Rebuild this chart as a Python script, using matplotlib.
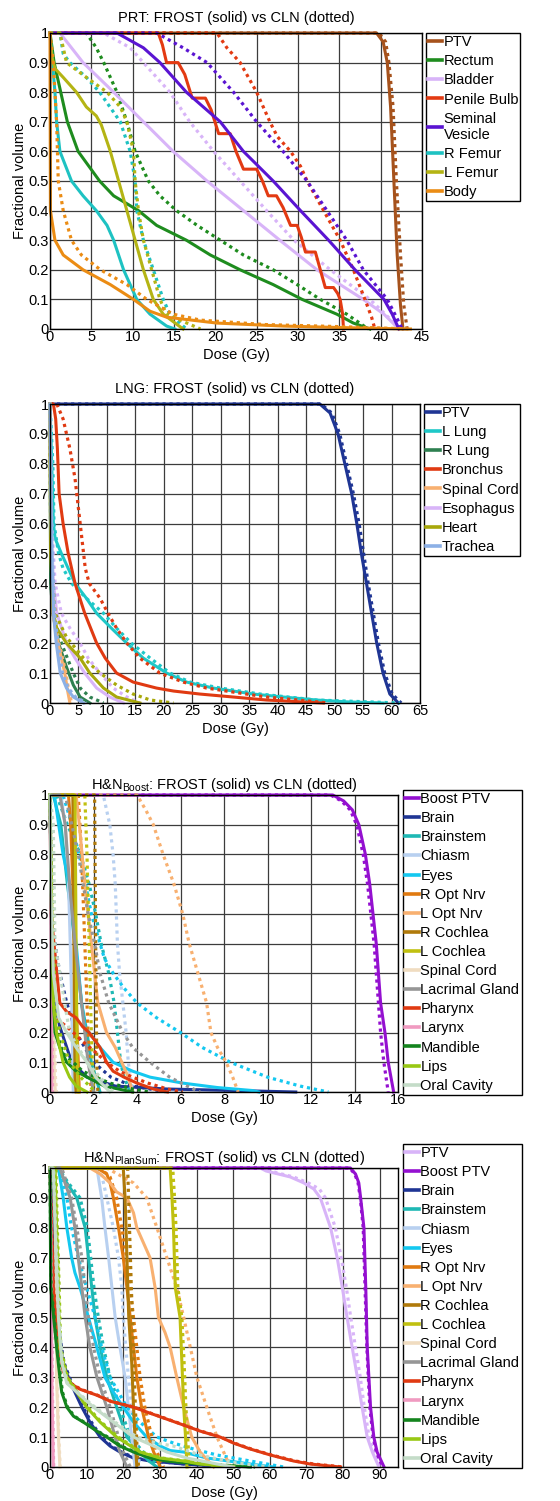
import matplotlib
matplotlib.use('Agg')
import matplotlib.pyplot as plt

plt.rcParams['font.family'] = ['Liberation Sans', 'DejaVu Sans']
plt.rcParams['mathtext.fontset'] = 'custom'
plt.rcParams['mathtext.rm'] = 'Liberation Sans'
plt.rcParams['mathtext.it'] = 'Liberation Sans:italic'
plt.rcParams['mathtext.bf'] = 'Liberation Sans:bold'

# ---------------- PRT (prostate) : (dose Gy, fractional volume) ----------------
prt_ptv_f = [(0,1),(39.5,1),(40.3,0.97),(40.8,0.9),(41.2,0.75),(41.6,0.5),(42.0,0.25),(42.4,0.08),(42.7,0)]
prt_ptv_c = [(0,1),(39.8,1),(40.6,0.97),(41.0,0.9),(41.5,0.75),(41.9,0.5),(42.4,0.25),(42.8,0.08),(43.2,0)]
prt_rectum_f = [(0,1),(0.5,0.9),(1.3,0.8),(2.1,0.7),(3.4,0.6),(6.0,0.5),(7.7,0.45),(10.7,0.4),(12.9,0.35),(16.5,0.3),(19.4,0.25),(23,0.2),(27,0.15),(30.5,0.1),(34.7,0.05),(36.7,0.02),(38.7,0)]
prt_rectum_c = [(0,1),(4.4,1),(5.6,0.95),(6.5,0.9),(8.1,0.8),(9.3,0.7),(10.3,0.6),(11.9,0.5),(13.3,0.45),(15.3,0.4),(17.8,0.35),(20.6,0.3),(23.4,0.25),(27,0.2),(29.9,0.15),(32.7,0.1),(35.9,0.05),(38.5,0)]
prt_bladder_f = [(0,1),(1.2,1),(4,0.9),(7.7,0.8),(11.3,0.7),(14.9,0.6),(19,0.5),(23.4,0.4),(27.8,0.3),(32.3,0.2),(37.9,0.1),(40.4,0.05),(42.2,0)]
prt_bladder_c = [(0,1),(6.5,1),(9.7,0.95),(11.3,0.9),(14.5,0.8),(16.9,0.7),(19.8,0.6),(23,0.5),(26.2,0.4),(29.5,0.3),(33.9,0.2),(38.7,0.1),(42.4,0)]
prt_penile_f = [(0,1),(13.1,1),(13.6,0.96),(14.1,0.9),(15.5,0.9),(16.3,0.86),(17.2,0.78),(18.8,0.78),(19.5,0.74),(20.4,0.66),(21.8,0.66),(22.5,0.6),(23.4,0.54),(25,0.54),(25.7,0.5),(26.4,0.45),(27.4,0.45),(28.2,0.41),(29.1,0.35),(29.9,0.35),(30.4,0.31),(30.9,0.26),(32.1,0.26),(32.7,0.2),(33.3,0.14),(34.3,0.14),(34.8,0.12),(35.1,0.1),(35.4,0.05),(35.5,0)]
prt_penile_c = [(0,1),(20.2,1),(21.4,0.95),(23,0.9),(25,0.8),(26.6,0.7),(27.5,0.65),(29.1,0.6),(30.3,0.55),(31.1,0.5),(33.1,0.4),(35.1,0.3),(36.7,0.2),(38.1,0.1),(38.9,0.04),(39.3,0)]
prt_sv_f = [(0,1),(8.1,1),(11.3,0.95),(13.3,0.9),(16.5,0.8),(20.6,0.7),(23.4,0.6),(27,0.5),(30.3,0.4),(33.7,0.3),(36.9,0.2),(40.4,0.1),(41.4,0.05),(42.2,0)]
prt_sv_c = [(0,1),(12.9,1),(16.1,0.95),(19,0.9),(22.2,0.8),(25,0.7),(28.2,0.6),(31.1,0.5),(33.5,0.4),(35.9,0.3),(37.9,0.2),(40.8,0.1),(41.9,0.04),(42.6,0)]
prt_rfemur_f = [(0,1),(0.3,0.9),(0.6,0.8),(0.8,0.7),(1.2,0.6),(2.6,0.5),(4,0.45),(5.6,0.4),(6.9,0.35),(7.7,0.3),(8.9,0.2),(10.5,0.1),(12.1,0.05),(14.1,0.01),(15.1,0)]
prt_rfemur_c = [(0,1),(1.2,1),(1.6,0.93),(2.4,0.9),(4.4,0.85),(6,0.8),(8.5,0.7),(9.7,0.6),(10.3,0.5),(10.5,0.4),(11.3,0.3),(12.5,0.2),(13.7,0.1),(14.5,0.05),(16.5,0)]
prt_lfemur_f = [(0,1),(0.2,0.92),(0.6,0.88),(1.6,0.85),(3.2,0.8),(4.4,0.75),(5.6,0.72),(6.2,0.69),(7.3,0.6),(8.3,0.5),(9.3,0.4),(10.3,0.3),(11.3,0.2),(12.5,0.1),(13.7,0.05),(16.1,0)]
prt_lfemur_c = [(0,1),(1.2,1),(2,0.9),(4.4,0.85),(6.9,0.8),(8.5,0.75),(9.3,0.7),(10.1,0.6),(10.3,0.5),(10.7,0.4),(11.3,0.3),(12.3,0.2),(13.3,0.1),(14.1,0.05),(18.2,0)]
prt_body_f = [(0,1),(0.05,0.4),(0.6,0.3),(1.6,0.25),(4,0.2),(7.3,0.15),(10.1,0.1),(12.1,0.06),(14.1,0.04),(20.2,0.02),(28.2,0.01),(35,0.005),(43.6,0)]
prt_body_c = [(0,1),(0.4,0.9),(0.8,0.7),(1.0,0.5),(1.6,0.4),(2.6,0.3),(3.8,0.25),(6.1,0.2),(9.3,0.15),(11.7,0.1),(14.9,0.05),(18.2,0.03),(26,0.015),(35,0.008),(43.6,0)]

prt_names = ['PTV', 'Rectum', 'Bladder', 'Penile Bulb', 'Seminal\nVesicle', 'R Femur', 'L Femur', 'Body']
prt_colors = ['#A6521C', '#1E8C1E', '#D8B4F8', '#E33A12', '#5A14D2', '#1EC2C2', '#B4B414', '#EB8C14']
prt_frost = [prt_ptv_f, prt_rectum_f, prt_bladder_f, prt_penile_f, prt_sv_f, prt_rfemur_f, prt_lfemur_f, prt_body_f]
prt_cln = [prt_ptv_c, prt_rectum_c, prt_bladder_c, prt_penile_c, prt_sv_c, prt_rfemur_c, prt_lfemur_c, prt_body_c]

# ---------------- LNG (lung) ----------------
lng_ptv_f = [(0,1),(47.4,1),(49.2,0.97),(50.6,0.9),(51.8,0.8),(53,0.7),(53.9,0.6),(54.7,0.5),(55.6,0.4),(56.5,0.3),(57.4,0.2),(58.5,0.1),(59.7,0.03),(61.2,0)]
lng_ptv_c = [(0,1),(47.6,1),(49.5,0.97),(50.9,0.9),(52.1,0.8),(53.3,0.7),(54.3,0.6),(55.1,0.5),(55.9,0.4),(56.8,0.3),(57.7,0.2),(58.8,0.1),(60.1,0.03),(61.7,0)]
lng_llung_f = [(0,1),(0.3,0.8),(0.6,0.6),(0.9,0.55),(2,0.5),(3.2,0.45),(4.4,0.4),(6.4,0.35),(8.2,0.3),(10.8,0.25),(13.5,0.2),(16.4,0.15),(20.5,0.1),(24,0.07),(28.7,0.05),(35.7,0.03),(41,0.02),(46.8,0.01),(52,0.004),(58.5,0)]
lng_llung_c = [(0,1),(0.5,0.8),(0.7,0.6),(1.5,0.5),(2.3,0.45),(3.8,0.4),(6.4,0.35),(9.4,0.3),(11.7,0.25),(14.3,0.2),(17.6,0.15),(21.1,0.1),(24.6,0.07),(29.9,0.05),(36.9,0.03),(46.8,0.01),(61.5,0)]
lng_rlung_f = [(0,1),(0.1,0.4),(0.5,0.3),(1.5,0.2),(2.9,0.12),(4.1,0.06),(5.3,0.02),(7,0)]
lng_rlung_c = [(0,1),(0.15,0.4),(0.5,0.3),(2,0.2),(4.1,0.1),(5.3,0.05),(7,0.02),(9.4,0)]
lng_bronchus_f = [(0,1),(0.6,1),(1.0,0.95),(1.3,0.85),(1.6,0.7),(2.3,0.6),(3.2,0.5),(4.4,0.4),(6.1,0.3),(8.2,0.2),(9.7,0.15),(11.7,0.1),(14.6,0.07),(18.7,0.05),(21.7,0.04),(26.3,0.03),(32.2,0.02),(38,0.01),(48,0)]
lng_bronchus_c = [(0,1),(1.2,1),(2.3,0.95),(3.5,0.85),(4.4,0.75),(5,0.65),(5.6,0.55),(6.2,0.45),(6.9,0.4),(8.8,0.35),(10.2,0.3),(11.7,0.25),(13.5,0.2),(15.8,0.15),(19.3,0.1),(23.4,0.07),(27.5,0.05),(38,0.02),(49,0)]
lng_cord_f = [(0,1),(0.1,0.6),(0.5,0.3),(1.2,0.22),(2,0.15),(2.6,0.1),(3.1,0.04),(3.5,0)]
lng_cord_c = [(0,1),(0.15,0.6),(0.6,0.3),(1.3,0.22),(2.2,0.15),(2.8,0.1),(3.3,0.04),(3.8,0)]
lng_esoph_f = [(0,1),(0.2,0.6),(0.6,0.4),(1.2,0.3),(2.9,0.2),(4.4,0.15),(6.1,0.1),(8.2,0.05),(10.5,0.02),(12.9,0)]
lng_esoph_c = [(0,1),(0.3,0.6),(0.9,0.4),(2,0.3),(3.5,0.25),(5.3,0.2),(6.7,0.15),(8.8,0.1),(11.1,0.05),(13.5,0.02),(15.8,0)]
lng_heart_f = [(0,1),(0.1,0.5),(0.6,0.3),(1.2,0.25),(2.9,0.2),(5.3,0.15),(7,0.1),(9.4,0.05),(11.7,0.02),(15.8,0)]
lng_heart_c = [(0,1),(0.2,0.5),(0.9,0.3),(2.9,0.22),(5.9,0.15),(8.8,0.1),(11.7,0.06),(14.6,0.03),(17.6,0.01),(21.7,0)]
lng_trachea_f = [(0,1),(0.2,0.6),(0.6,0.3),(1.1,0.2),(1.8,0.1),(2.9,0.05),(4.1,0.02),(5.9,0)]
lng_trachea_c = [(0,1),(0.25,0.6),(0.8,0.3),(1.4,0.2),(2.2,0.1),(3.2,0.05),(4.5,0.02),(6.4,0)]

lng_names = ['PTV', 'L Lung', 'R Lung', 'Bronchus', 'Spinal Cord', 'Esophagus', 'Heart', 'Trachea']
lng_colors = ['#1F3594', '#1EC8C8', '#2E8050', '#E03A12', '#F8B070', '#D8B4F8', '#A8A80A', '#8CB0E6']
lng_frost = [lng_ptv_f, lng_llung_f, lng_rlung_f, lng_bronchus_f, lng_cord_f, lng_esoph_f, lng_heart_f, lng_trachea_f]
lng_cln = [lng_ptv_c, lng_llung_c, lng_rlung_c, lng_bronchus_c, lng_cord_c, lng_esoph_c, lng_heart_c, lng_trachea_c]

# ---------------- H&N Boost ----------------
hb_boost_f = [(0,1),(13,1),(13.5,0.98),(13.9,0.95),(14.2,0.9),(14.5,0.8),(14.7,0.7),(14.85,0.6),(15.0,0.5),(15.1,0.4),(15.2,0.3),(15.4,0.2),(15.55,0.1),(15.8,0)]
hb_boost_c = [(0,1),(12.9,1),(13.4,0.98),(13.8,0.95),(14.1,0.9),(14.4,0.8),(14.6,0.7),(14.75,0.6),(14.9,0.5),(15.0,0.4),(15.1,0.3),(15.2,0.2),(15.35,0.1),(15.55,0)]
hb_brain_f = [(0,1),(0.08,0.5),(0.23,0.3),(0.45,0.22),(0.77,0.15),(1.0,0.1),(1.7,0.05),(3.0,0.02),(5.4,0.01),(8.5,0.005),(11.3,0)]
hb_brain_c = [(0,1),(0.1,0.6),(0.23,0.5),(0.45,0.4),(0.77,0.3),(1.2,0.2),(2.0,0.1),(2.8,0.05),(3.8,0.02),(5.4,0)]
hb_brainstem_f = [(0,1),(0.15,1),(0.5,0.9),(0.8,0.7),(1.15,0.5),(1.45,0.3),(1.7,0.2),(1.9,0.1),(2.3,0)]
hb_brainstem_c = [(0,1),(0.3,1),(0.8,0.9),(1.4,0.8),(1.8,0.7),(2.1,0.6),(2.35,0.5),(2.7,0.4),(2.95,0.3),(3.1,0.2),(3.25,0.1),(3.4,0.05),(3.7,0)]
hb_chiasm_f = [(0,1),(0.5,1),(0.7,0.9),(0.85,0.7),(0.93,0.5),(1.0,0.3),(1.04,0.1),(1.07,0)]
hb_chiasm_c = [(0,1),(2.45,1),(2.6,0.95),(2.75,0.9),(2.9,0.8),(3.0,0.7),(3.05,0.6),(3.1,0.5),(3.2,0.4),(3.35,0.3),(3.5,0.2),(3.6,0.1),(3.8,0)]
hb_eyes_f = [(0,1),(0.2,1),(0.4,0.9),(0.6,0.8),(0.9,0.7),(1.2,0.5),(1.45,0.3),(1.6,0.22),(2.0,0.18),(2.3,0.15),(2.9,0.1),(3.8,0.07),(4.6,0.05),(6.1,0.03),(7.7,0.015),(9.3,0.005),(9.6,0)]
hb_eyes_c = [(0,1),(0.6,1),(1.0,0.9),(1.5,0.75),(1.9,0.6),(2.3,0.5),(2.5,0.45),(2.9,0.4),(3.4,0.35),(4.0,0.3),(4.9,0.25),(6.0,0.2),(7.0,0.15),(8.3,0.1),(10.0,0.05),(11.5,0.02),(12.8,0)]
hb_roptnrv_f = [(0,1),(0.85,1),(0.95,0.9),(1.0,0.8),(1.1,0.6),(1.15,0.4),(1.25,0.2),(1.3,0.1),(1.35,0)]
hb_roptnrv_c = [(0,1),(1.3,1),(1.45,0.8),(1.6,0.5),(1.7,0.3),(1.8,0.1),(1.9,0)]
hb_loptnrv_f = [(0,1),(1.2,1),(1.35,0.9),(1.6,0.7),(1.75,0.6),(1.9,0.5),(2.05,0.4),(2.2,0.3),(2.4,0.25),(2.6,0.2),(3.0,0.15),(3.3,0.1),(3.6,0.05),(3.8,0)]
hb_loptnrv_c = [(0,1),(4.0,1),(4.4,0.95),(4.75,0.9),(5.2,0.8),(5.7,0.7),(6.1,0.6),(6.4,0.5),(6.8,0.4),(7.2,0.3),(7.4,0.2),(7.7,0.15),(8.1,0.1),(8.4,0.05),(8.65,0)]
hb_rcochlea_f = [(0,1),(1.05,1),(1.1,0.5),(1.15,0.05),(1.2,0)]
hb_rcochlea_c = [(0,1),(2.05,1),(2.1,0.5),(2.15,0.1),(2.2,0)]
hb_lcochlea_f = [(0,1),(1.15,1),(1.2,0.5),(1.25,0.1),(1.3,0)]
hb_lcochlea_c = [(0,1),(1.6,1),(1.7,0.8),(1.8,0.5),(1.9,0.2),(2.0,0)]
hb_cord_f = [(0,1),(0.1,0.5),(0.2,0.05),(0.25,0)]
hb_cord_c = [(0,1),(0.15,0.5),(0.25,0.05),(0.3,0)]
hb_lacrimal_f = [(0,1),(0.45,1),(0.7,0.9),(0.9,0.7),(1.15,0.5),(1.45,0.3),(1.6,0.2),(1.75,0.1),(2.0,0)]
hb_lacrimal_c = [(0,1),(0.7,1),(1.3,0.8),(1.75,0.6),(2.05,0.5),(2.3,0.4),(2.7,0.3),(3.35,0.2),(3.8,0.15),(4.6,0.1),(5.5,0.05),(6.3,0.02),(6.9,0)]
hb_pharynx_f = [(0,1),(0.05,0.6),(0.45,0.3),(0.77,0.27),(1.2,0.25),(1.5,0.22),(1.8,0.2),(2.3,0.15),(2.6,0.1),(2.9,0.07),(3.4,0.05),(4.0,0.03),(4.75,0.01),(5.4,0)]
hb_pharynx_c = [(0,1),(0.1,0.5),(0.23,0.25),(0.77,0.22),(1.07,0.2),(1.5,0.17),(2.0,0.14),(2.6,0.1),(3.2,0.07),(3.8,0.05),(4.5,0.03),(5.4,0.01),(6.1,0)]
hb_larynx_f = [(0,1),(0.05,0.5),(0.08,0)]
hb_larynx_c = [(0,1),(0.08,0.5),(0.12,0)]
hb_mandible_f = [(0,1),(0.1,0.4),(0.23,0.2),(0.45,0.15),(0.77,0.1),(1.2,0.07),(1.7,0.05),(2.5,0.02),(3.8,0)]
hb_mandible_c = [(0,1),(0.12,0.4),(0.3,0.2),(0.6,0.13),(1.07,0.1),(1.5,0.07),(2.1,0.05),(2.75,0.03),(3.8,0.01),(4.6,0)]
hb_lips_f = [(0,1),(0.15,0.3),(0.3,0.2),(0.6,0.1),(0.9,0.05),(1.2,0.02),(1.7,0)]
hb_lips_c = [(0,1),(0.23,0.3),(0.45,0.2),(0.9,0.1),(1.4,0.05),(2.1,0)]
hb_oral_f = [(0,1),(0.03,0.7),(0.15,0.4),(0.4,0.25),(0.77,0.2),(1.2,0.15),(1.7,0.1),(2.1,0.05),(2.75,0)]
hb_oral_c = [(0,1),(0.15,0.9),(0.23,0.5),(0.9,0.2),(1.7,0.1),(2.9,0)]

hn_names = ['Brain', 'Brainstem', 'Chiasm', 'Eyes', 'R Opt Nrv', 'L Opt Nrv', 'R Cochlea', 'L Cochlea',
            'Spinal Cord', 'Lacrimal Gland', 'Pharynx', 'Larynx', 'Mandible', 'Lips', 'Oral Cavity']
hn_colors = ['#1F3594', '#1EB8B4', '#B8D0F0', '#14C8F0', '#E07A10', '#F8B070', '#B07A0A', '#C0C010',
             '#F0DCC0', '#969696', '#E03A12', '#F09AC0', '#14841E', '#98C814', '#C4DCC8']
hb_names = ['Boost PTV'] + hn_names
hb_colors = ['#9410D0'] + hn_colors
hb_frost = [hb_boost_f, hb_brain_f, hb_brainstem_f, hb_chiasm_f, hb_eyes_f, hb_roptnrv_f, hb_loptnrv_f, hb_rcochlea_f,
            hb_lcochlea_f, hb_cord_f, hb_lacrimal_f, hb_pharynx_f, hb_larynx_f, hb_mandible_f, hb_lips_f, hb_oral_f]
hb_cln = [hb_boost_c, hb_brain_c, hb_brainstem_c, hb_chiasm_c, hb_eyes_c, hb_roptnrv_c, hb_loptnrv_c, hb_rcochlea_c,
          hb_lcochlea_c, hb_cord_c, hb_lacrimal_c, hb_pharynx_c, hb_larynx_c, hb_mandible_c, hb_lips_c, hb_oral_c]

# ---------------- H&N PlanSum ----------------
hp_ptv_f = [(0,1),(57.4,1),(59,0.99),(65.6,0.97),(69.3,0.95),(72,0.93),(73.8,0.9),(76.6,0.8),(78.4,0.7),(79.8,0.6),(81.1,0.5),(82.5,0.4),(83.9,0.3),(85.2,0.2),(86.6,0.1),(88,0.05),(89.8,0)]
hp_ptv_c = [(0,1),(58,1),(60,0.99),(66.5,0.97),(70.5,0.95),(73.5,0.93),(75.2,0.9),(77.9,0.8),(79.5,0.7),(80.9,0.6),(82.1,0.5),(83.4,0.4),(84.7,0.3),(85.8,0.2),(87.1,0.1),(88.4,0.05),(90.2,0)]
hp_boost_f = [(0,1),(82,1),(83.4,0.98),(84.3,0.95),(84.8,0.9),(85.7,0.8),(86.2,0.6),(86.6,0.4),(87.5,0.2),(88.4,0.1),(89.3,0.05),(91.2,0)]
hp_boost_c = [(0,1),(81.8,1),(83.2,0.98),(84.1,0.95),(84.7,0.9),(85.5,0.8),(86.0,0.6),(86.5,0.4),(87.3,0.2),(88.2,0.1),(89.1,0.05),(90.8,0)]
hp_brain_f = [(0,1),(0.5,0.9),(1.2,0.6),(2.3,0.45),(3.6,0.35),(5,0.3),(6.8,0.25),(8.7,0.2),(10.9,0.15),(13.7,0.1),(16.4,0.07),(19.1,0.05),(22.8,0.03),(27.3,0.02),(36.5,0.01),(50.1,0)]
hp_brain_c = [(0,1),(0.6,0.9),(1.4,0.6),(2.5,0.45),(3.8,0.35),(5.3,0.3),(7.1,0.25),(9,0.2),(11.3,0.15),(14,0.1),(16.8,0.07),(19.5,0.05),(23.2,0.03),(28,0.02),(37,0.01),(52,0)]
hp_brainstem_f = [(0,1),(1.8,1),(4.6,0.95),(7.3,0.9),(9.6,0.8),(10.5,0.7),(11.4,0.6),(12.3,0.5),(13.7,0.4),(15.5,0.3),(18.2,0.2),(21,0.1),(24.6,0.05),(27,0.02),(29.2,0)]
hp_brainstem_c = [(0,1),(2.3,1),(5,0.95),(8.2,0.9),(10.2,0.8),(11.1,0.7),(12,0.6),(13.2,0.5),(14.6,0.4),(16.4,0.3),(19.1,0.2),(21.9,0.1),(25.5,0.05),(30.1,0)]
hp_chiasm_f = [(0,1),(12.8,1),(14.1,0.9),(15,0.8),(16,0.7),(16.9,0.6),(17.8,0.5),(19.1,0.4),(20.5,0.3),(21.4,0.2),(22.3,0.1),(23.2,0)]
hp_chiasm_c = [(0,1),(13.7,1),(15.5,0.9),(17.3,0.8),(18.7,0.7),(19.6,0.6),(20,0.5),(20.7,0.4),(21.4,0.3),(22.3,0.2),(23.2,0.1),(24.6,0)]
hp_eyes_f = [(0,1),(2.3,1),(3.6,0.9),(4.6,0.8),(5.9,0.7),(6.8,0.65),(8.2,0.6),(10.5,0.5),(12.8,0.4),(15,0.3),(17.3,0.25),(20,0.2),(22.8,0.15),(26.4,0.1),(30.1,0.07),(32.8,0.055),(36.5,0.05),(42.8,0.03),(54.7,0.01),(61,0)]
hp_eyes_c = [(0,1),(2.7,1),(4.6,0.9),(5.9,0.8),(7.7,0.7),(10,0.6),(12.3,0.5),(14.1,0.4),(16.4,0.3),(21,0.2),(24.6,0.15),(29.2,0.1),(33.7,0.08),(39.2,0.06),(45.6,0.04),(54.7,0.02),(63.8,0)]
hp_roptnrv_f = [(0,1),(12.8,1),(15.5,0.98),(16.4,0.95),(17.3,0.9),(18.7,0.8),(20,0.7),(21,0.6),(21.9,0.5),(22.8,0.4),(23.7,0.3),(25,0.2),(26.9,0.1),(28.3,0.05),(30.1,0)]
hp_roptnrv_c = [(0,1),(13.7,1),(16.4,0.97),(18.2,0.9),(19.6,0.8),(20.9,0.7),(21.9,0.6),(22.8,0.5),(23.7,0.4),(24.6,0.3),(25.9,0.2),(27.8,0.1),(29.2,0.05),(31,0)]
hp_loptnrv_f = [(0,1),(10.9,1),(13.7,0.98),(16.4,0.95),(18.2,0.92),(21,0.9),(22.8,0.85),(23.7,0.8),(25.5,0.75),(27.3,0.7),(28.7,0.6),(29.6,0.5),(31.4,0.45),(32.8,0.4),(34.6,0.3),(36.5,0.2),(38.7,0.1),(41,0.05),(44.7,0)]
hp_loptnrv_c = [(0,1),(15.5,1),(22.8,0.95),(26.4,0.9),(29.2,0.8),(31.9,0.7),(34.6,0.6),(36.5,0.5),(38.3,0.4),(40.1,0.3),(42.8,0.2),(45.6,0.1),(47.4,0.05),(49.2,0)]
hp_rcochlea_f = [(0,1),(20,1),(20.5,0.9),(21,0.7),(21.5,0.5),(22.3,0.35),(22.8,0.2),(23.2,0.1),(23.7,0)]
hp_rcochlea_c = [(0,1),(21.2,1),(21.7,0.8),(22.2,0.6),(22.8,0.4),(23.3,0.2),(23.8,0.05),(24.2,0)]
hp_lcochlea_f = [(0,1),(32.8,1),(33.3,0.9),(33.7,0.8),(34.2,0.6),(35.5,0.5),(36,0.35),(36.5,0.2),(37,0.1),(37.4,0)]
hp_lcochlea_c = [(0,1),(33.5,1),(34,0.9),(34.4,0.8),(34.9,0.6),(36,0.5),(36.6,0.35),(37.1,0.2),(37.6,0.1),(38,0)]
hp_cord_f = [(0,1),(1.4,1),(1.8,0.3),(2.3,0.1),(2.7,0)]
hp_cord_c = [(0,1),(1.5,1),(1.9,0.3),(2.4,0.1),(2.8,0)]
hp_lacrimal_f = [(0,1),(2.7,1),(4.1,0.95),(5.5,0.9),(6.8,0.8),(7.7,0.7),(8.7,0.6),(9.6,0.5),(10.9,0.4),(12.8,0.3),(15.5,0.2),(17.8,0.1),(19.1,0.05),(21,0)]
hp_lacrimal_c = [(0,1),(3.2,1),(5.9,0.9),(7.3,0.8),(8.7,0.7),(9.6,0.6),(10.5,0.5),(11.9,0.4),(13.7,0.3),(16.4,0.2),(18.7,0.1),(20,0.05),(21.9,0)]
hp_pharynx_f = [(0,1),(0.9,0.6),(2.3,0.4),(3.6,0.32),(5.5,0.28),(8.2,0.26),(12.8,0.24),(16.4,0.22),(22.8,0.2),(27.3,0.18),(31.9,0.16),(36.5,0.14),(41,0.12),(46.5,0.1),(50.1,0.08),(54.7,0.06),(60.2,0.04),(66.5,0.02),(71,0.01),(79.3,0)]
hp_pharynx_c = [(0,1),(1.0,0.6),(2.5,0.4),(3.8,0.32),(5.7,0.28),(8.4,0.26),(13,0.24),(16.6,0.22),(23,0.2),(27.5,0.18),(32.1,0.16),(36.7,0.14),(41.2,0.12),(46.7,0.1),(50.3,0.08),(55,0.06),(60.5,0.04),(67,0.02),(72,0.01),(80,0)]
hp_larynx_f = [(0,1),(0.3,0.7),(0.5,0.3),(0.9,0)]
hp_larynx_c = [(0,1),(0.4,0.7),(0.6,0.3),(1.0,0)]
hp_mandible_f = [(0,1),(0.2,0.6),(1.8,0.4),(2.7,0.3),(3.2,0.25),(4.6,0.2),(6.4,0.17),(9.1,0.15),(12.8,0.12),(15.5,0.1),(19.1,0.07),(22.8,0.05),(27.3,0.03),(31.9,0.02),(41,0.01),(54.7,0)]
hp_mandible_c = [(0,1),(0.3,0.6),(2.0,0.4),(2.9,0.3),(3.4,0.25),(4.8,0.2),(6.6,0.17),(9.3,0.15),(13,0.12),(15.8,0.1),(19.4,0.07),(23.2,0.05),(27.8,0.03),(32.5,0.02),(42,0.01),(56,0)]
hp_lips_f = [(0,1),(1.4,1),(1.8,0.8),(2.3,0.6),(2.7,0.4),(4.6,0.3),(7.3,0.25),(10,0.2),(13.7,0.15),(18.2,0.1),(24.6,0.05),(30,0.03),(36.5,0.02),(41,0.01),(50,0)]
hp_lips_c = [(0,1),(1.6,1),(2.0,0.8),(2.5,0.6),(2.9,0.4),(4.8,0.3),(7.5,0.25),(10.3,0.2),(14,0.15),(18.6,0.1),(25,0.05),(30.5,0.03),(37,0.02),(42,0.01),(51,0)]
hp_oral_f = [(0,1),(0.9,1),(1.4,0.8),(2.3,0.5),(3.2,0.35),(4.6,0.28),(7.3,0.25),(11.9,0.2),(17.3,0.15),(22.8,0.1),(28.3,0.07),(31.9,0.05),(37.4,0.03),(45.6,0.01),(50.1,0)]
hp_oral_c = [(0,1),(1.0,1),(1.5,0.8),(2.5,0.5),(3.4,0.35),(4.8,0.28),(7.5,0.25),(12.3,0.2),(17.8,0.15),(23.7,0.1),(29.2,0.08),(33.7,0.07),(41,0.04),(50,0.015),(60,0)]

hp_names = ['PTV', 'Boost PTV'] + hn_names
hp_colors = ['#D8B4F8', '#9410D0'] + hn_colors
hp_frost = [hp_ptv_f, hp_boost_f, hp_brain_f, hp_brainstem_f, hp_chiasm_f, hp_eyes_f, hp_roptnrv_f, hp_loptnrv_f,
            hp_rcochlea_f, hp_lcochlea_f, hp_cord_f, hp_lacrimal_f, hp_pharynx_f, hp_larynx_f, hp_mandible_f,
            hp_lips_f, hp_oral_f]
hp_cln = [hp_ptv_c, hp_boost_c, hp_brain_c, hp_brainstem_c, hp_chiasm_c, hp_eyes_c, hp_roptnrv_c, hp_loptnrv_c,
          hp_rcochlea_c, hp_lcochlea_c, hp_cord_c, hp_lacrimal_c, hp_pharynx_c, hp_larynx_c, hp_mandible_c,
          hp_lips_c, hp_oral_c]

y_ticks = [0, 0.1, 0.2, 0.3, 0.4, 0.5, 0.6, 0.7, 0.8, 0.9, 1]
y_ticklabels = ['0', '0.1', '0.2', '0.3', '0.4', '0.5', '0.6', '0.7', '0.8', '0.9', '1']

# ---------------- drawing ----------------
W, H = 560, 1501
FS = 10.5
fig = plt.figure(figsize=(W / 100, H / 100), dpi=100)


def px_rect(l, t, r, b):
    return [l / W, 1 - b / H, (r - l) / W, (b - t) / H]


def panel(rect, xmax, xticks, title, names, colors, frost, cln, leg_xy, tpad):
    ax = fig.add_axes(px_rect(*rect))
    handles = []
    for name, col, f, c in zip(names, colors, frost, cln):
        fx, fy = zip(*f)
        cx, cy = zip(*c)
        h, = ax.plot(fx, fy, color=col, lw=2.2, solid_joinstyle='round', clip_on=False, zorder=3, label=name)
        ax.plot(cx, cy, color=col, lw=2.3, linestyle=(0, (1, 1.2)), clip_on=False, zorder=3)
        handles.append(h)
    ax.set_xlim(0, xmax)
    ax.set_ylim(0, 1)
    ax.set_xticks(xticks)
    ax.set_xticklabels([str(t) for t in xticks], fontsize=FS)
    ax.set_yticks(y_ticks)
    ax.set_yticklabels(y_ticklabels, fontsize=FS)
    ax.tick_params(length=0, pad=1)
    ax.grid(True, color='#3c3c3c', lw=0.9, zorder=1)
    ax.set_axisbelow(True)
    for s in ax.spines.values():
        s.set_color('black')
        s.set_linewidth(1.0)
        s.set_zorder(4)
    ax.set_xlabel('Dose (Gy)', fontsize=FS, labelpad=2.5)
    ax.set_ylabel('Fractional volume', fontsize=FS, labelpad=1)
    ax.set_title(title, fontsize=FS, pad=tpad)
    leg = ax.legend(handles=handles, loc='upper left',
                    bbox_to_anchor=(leg_xy[0] / W, 1 - leg_xy[1] / H),
                    bbox_transform=fig.transFigure, fontsize=FS, frameon=True, fancybox=False,
                    framealpha=1, edgecolor='black', handlelength=0.95, handletextpad=0.1,
                    labelspacing=0.35, borderpad=0.15, borderaxespad=0)
    leg.get_frame().set_linewidth(1.0)
    for lh in leg.get_lines():
        lh.set_linewidth(2.6)
    return ax


panel((50, 33, 422, 329), 45, list(range(0, 46, 5)), 'PRT: FROST (solid) vs CLN (dotted)',
      prt_names, prt_colors, prt_frost, prt_cln, (426, 33), 8)
panel((50, 404, 420, 703), 65, list(range(0, 66, 5)), 'LNG: FROST (solid) vs CLN (dotted)',
      lng_names, lng_colors, lng_frost, lng_cln, (424, 404), 8)
panel((50, 795, 398, 1092), 16, list(range(0, 17, 2)), r'H&N$_{\mathrm{Boost}}$: FROST (solid) vs CLN (dotted)',
      hb_names, hb_colors, hb_frost, hb_cln, (403, 790), 4.5)
panel((50, 1168, 398, 1467), 95, list(range(0, 91, 10)), r'H&N$_{\mathrm{PlanSum}}$: FROST (solid) vs CLN (dotted)',
      hp_names, hp_colors, hp_frost, hp_cln, (403, 1144), 4.5)

fig.savefig('out.png', dpi=100)
